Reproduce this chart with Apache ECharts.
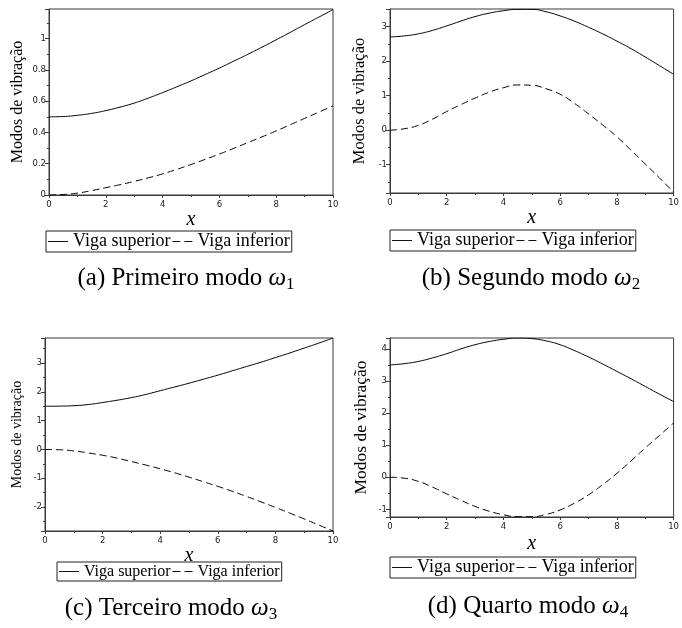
<!DOCTYPE html>
<html><head><meta charset="utf-8">
<script src="https://cdn.jsdelivr.net/npm/echarts@6/dist/echarts.min.js"></script>
<style>html,body{margin:0;padding:0;background:#fff}#c{width:682px;height:628px}</style>
</head><body><div id="c"></div>
<script>
// ---------------- data ----------------
const seriesNames = ['Viga superior', 'Viga inferior'];
const captionTexts = ['(a) Primeiro modo', '(b) Segundo modo', '(c) Terceiro modo', '(d) Quarto modo'];
const captionSubs = ['1', '2', '3', '4'];
const yAxisTitle = 'Modos de vibração';
const xAxisTitle = 'x';

const xs = [0, 0.5, 1, 1.5, 2, 2.5, 3, 3.5, 4, 4.5, 5, 5.5, 6, 6.5, 7, 7.5, 8, 8.5, 9, 9.5, 10];
// (a) Primeiro modo
const supA = [0.500, 0.502, 0.510, 0.522, 0.540, 0.562, 0.588, 0.620, 0.655, 0.692, 0.730, 0.771, 0.812, 0.856, 0.900, 0.946, 0.993, 1.041, 1.090, 1.138, 1.186];
const infA = [0.000, 0.003, 0.012, 0.028, 0.047, 0.066, 0.087, 0.110, 0.135, 0.164, 0.195, 0.228, 0.262, 0.298, 0.335, 0.372, 0.410, 0.450, 0.490, 0.530, 0.570];
// (b) Segundo modo
const supB = [2.70, 2.73, 2.79, 2.89, 3.02, 3.16, 3.29, 3.39, 3.46, 3.50, 3.50, 3.43, 3.31, 3.16, 2.98, 2.79, 2.58, 2.36, 2.12, 1.87, 1.62];
const infB = [0.00, 0.04, 0.14, 0.32, 0.54, 0.74, 0.93, 1.10, 1.23, 1.31, 1.30, 1.20, 1.04, 0.78, 0.47, 0.15, -0.19, -0.58, -0.98, -1.38, -1.80];
// (c) Terceiro modo
const supC = [1.50, 1.505, 1.52, 1.56, 1.63, 1.71, 1.80, 1.91, 2.04, 2.17, 2.30, 2.44, 2.58, 2.73, 2.88, 3.03, 3.19, 3.35, 3.52, 3.69, 3.87];
const infC = [0.00, -0.01, -0.05, -0.12, -0.20, -0.30, -0.42, -0.54, -0.67, -0.81, -0.96, -1.12, -1.28, -1.45, -1.63, -1.82, -2.01, -2.21, -2.41, -2.62, -2.83];
// (d) Quarto modo
const supD = [3.50, 3.54, 3.61, 3.72, 3.85, 4.00, 4.13, 4.23, 4.30, 4.34, 4.32, 4.25, 4.13, 3.95, 3.75, 3.53, 3.30, 3.07, 2.83, 2.59, 2.36];
const infD = [0.00, -0.03, -0.13, -0.31, -0.52, -0.72, -0.91, -1.06, -1.17, -1.23, -1.23, -1.16, -1.02, -0.81, -0.55, -0.23, 0.12, 0.51, 0.91, 1.30, 1.69];

// axis extents (value units)
const yMin = [0, -1.82, -2.83, -1.24];
const yMax = [1.19, 3.51, 3.87, 4.34];
const yStep = [0.2, 1, 1, 1];
const xMin = 0, xMax = 10, xStep = 2;

// ---------------- layout ----------------
const panels = [
  { sup: supA, inf: infA },
  { sup: supB, inf: infB },
  { sup: supC, inf: infC },
  { sup: supD, inf: infD }
];
const layout = [
  { grid: { left: 49, top: 9, width: 284, height: 186 }, yName: 16, yGap: 23, xGap: 14, legend: { left: 46, top: 231 }, legFont: 18, cap: [186, 278] },
  { grid: { left: 390, top: 9, width: 285, height: 184 }, yName: 16.5, yGap: 22, xGap: 14, legend: { left: 390, top: 230 }, legFont: 18, cap: [531, 278] },
  { grid: { left: 45, top: 338, width: 288, height: 193 }, yName: 14, yGap: 21, xGap: 11, legend: { left: 57, top: 562 }, legFont: 16, cap: [171, 608] },
  { grid: { left: 390, top: 338, width: 286, height: 179 }, yName: 17.5, yGap: 20, xGap: 17, legend: { left: 390, top: 557 }, legFont: 18, cap: [528, 606] }
];

const axisColor = '#3a3a3a';
const legendIcons = ['path://M0,0h20v1h-20z', 'path://M0,0h8v1h-8z M12,0h8v1h-8z'];
const grids = [], xAxes = [], yAxes = [], series = [], legends = [], graphics = [];

panels.forEach((p, i) => {
  const L = layout[i];
  grids.push(Object.assign({ show: true, borderColor: axisColor, borderWidth: 1, containLabel: false }, L.grid));
  xAxes.push({
    type: 'value', gridIndex: i, min: xMin, max: xMax, interval: xStep,
    axisLine: { show: true, onZero: false, lineStyle: { color: axisColor, width: 1 } },
    axisTick: { show: true, inside: false, length: 3, lineStyle: { color: axisColor } },
    minorTick: { show: true, splitNumber: 2, length: 2, lineStyle: { color: axisColor } },
    splitLine: { show: false },
    axisLabel: { fontFamily: 'DejaVu Sans', fontSize: 8.5, color: '#222', margin: 5 },
    name: xAxisTitle, nameLocation: 'middle', nameGap: L.xGap,
    nameTextStyle: { fontFamily: 'Liberation Serif', fontStyle: 'italic', fontSize: 20, color: '#000' }
  });
  const step = yStep[i];
  yAxes.push({
    type: 'value', gridIndex: i, min: yMin[i], max: yMax[i],
    axisLine: { show: true, onZero: false, lineStyle: { color: axisColor, width: 1 } },
    axisTick: { show: true, inside: false, length: 4, lineStyle: { color: axisColor } },
    minorTick: { show: true, splitNumber: 2, length: 2, lineStyle: { color: axisColor } },
    splitLine: { show: false },
    axisLabel: {
      fontFamily: 'DejaVu Sans', fontSize: 8.5, color: '#222', margin: 3,
      formatter: v => {
        const k = v / step;
        return Math.abs(k - Math.round(k)) < 1e-6 ? String(Number(v.toFixed(6))) : '';
      }
    },
    name: yAxisTitle, nameLocation: 'middle', nameRotate: 90, nameGap: L.yGap,
    nameTextStyle: { fontFamily: 'Liberation Serif', fontSize: L.yName, color: '#000' }
  });
  [[p.sup, 'solid'], [p.inf, [7, 4]]].forEach((d, k) => {
    series.push({
      name: seriesNames[k], type: 'line', xAxisIndex: i, yAxisIndex: i,
      data: xs.map((x, j) => [x, d[0][j]]),
      symbol: 'none', showSymbol: false, smooth: true,
      lineStyle: { color: '#000', width: 1, type: d[1] },
      itemStyle: { color: '#000' },
      animation: false
    });
  });
  legends.push({
    data: seriesNames.map((n, k) => ({ name: n, icon: legendIcons[k] })),
    left: L.legend.left, top: L.legend.top, orient: 'horizontal',
    itemWidth: 20, itemHeight: 1, itemGap: 2, padding: [1, 2],
    borderColor: '#222', borderWidth: 1, selectedMode: false,
    itemStyle: { color: '#111', borderWidth: 0 },
    textStyle: { fontFamily: 'Liberation Serif', fontSize: L.legFont, color: '#000', lineHeight: L.legFont + 1 }
  });
  graphics.push({
    type: 'text', x: L.cap[0], y: L.cap[1],
    style: {
      text: captionTexts[i] + ' {w|ω}{s|' + captionSubs[i] + '}',
      fontFamily: 'Liberation Serif', fontSize: 25, fill: '#000',
      align: 'center', verticalAlign: 'middle', lineHeight: 30,
      rich: {
        w: { fontFamily: 'Liberation Serif', fontStyle: 'italic', fontSize: 25, lineHeight: 30 },
        s: { fontFamily: 'Liberation Serif', fontSize: 17, lineHeight: 14, verticalAlign: 'bottom' }
      }
    }
  });
});

const chart = echarts.init(document.getElementById('c'), null, { renderer: 'canvas' });
chart.setOption({
  animation: false,
  backgroundColor: '#fff',
  grid: grids, xAxis: xAxes, yAxis: yAxes, series: series, legend: legends,
  graphic: graphics
});
</script></body></html>
